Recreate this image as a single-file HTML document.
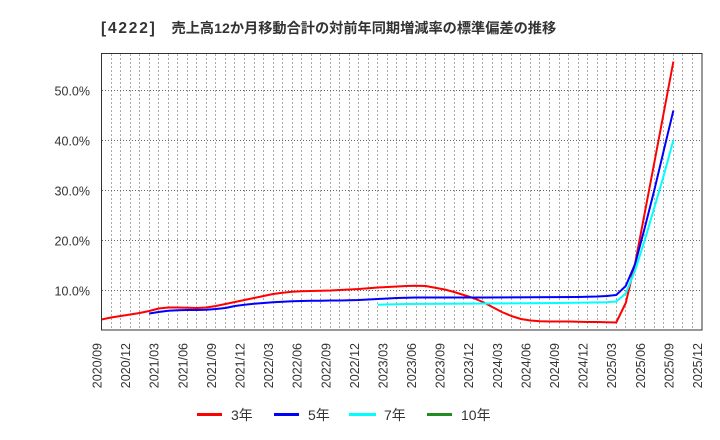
<!DOCTYPE html>
<html>
<head>
<meta charset="utf-8">
<style>
html,body{margin:0;padding:0;background:#fff;}
svg{display:block;}
text{font-family:"Liberation Sans","Noto Sans CJK JP",sans-serif;fill:#333;}
</style>
</head>
<body>
<svg width="720" height="440" viewBox="0 0 720 440" xmlns="http://www.w3.org/2000/svg">
<rect x="0" y="0" width="720" height="440" fill="#fff"/>
<text y="33" font-weight="bold"><tspan x="101" font-size="15.5" letter-spacing="1.8">[4222]</tspan><tspan x="171.5" font-size="14.2">売上高12か月移動合計の対前年同期増減率の標準偏差の推移</tspan></text>

<!-- vertical grid (monthly) -->
<path fill="none" stroke="#aaa" stroke-width="1" stroke-dasharray="2,2" d="M111.5 54V330M120.5 54V330M130.5 54V330M139.5 54V330M149.5 54V330M158.5 54V330M168.5 54V330M177.5 54V330M187.5 54V330M196.5 54V330M206.5 54V330M215.5 54V330M225.5 54V330M234.5 54V330M244.5 54V330M254.5 54V330M263.5 54V330M273.5 54V330M282.5 54V330M292.5 54V330M301.5 54V330M311.5 54V330M320.5 54V330M330.5 54V330M339.5 54V330M349.5 54V330M358.5 54V330M368.5 54V330M377.5 54V330M387.5 54V330M396.5 54V330M406.5 54V330M416.5 54V330M425.5 54V330M435.5 54V330M444.5 54V330M454.5 54V330M463.5 54V330M473.5 54V330M482.5 54V330M492.5 54V330M501.5 54V330M511.5 54V330M520.5 54V330M530.5 54V330M539.5 54V330M549.5 54V330M559.5 54V330M568.5 54V330M578.5 54V330M587.5 54V330M597.5 54V330M606.5 54V330M616.5 54V330M625.5 54V330M635.5 54V330M644.5 54V330M654.5 54V330M663.5 54V330M673.5 54V330M682.5 54V330M692.5 54V330"/>
<!-- horizontal grid -->
<path fill="none" stroke="#666" stroke-width="1" stroke-dasharray="1,2" d="M102 90.5H702M102 140.5H702M102 190.5H702M102 240.5H702M102 290.5H702"/>

<!-- series -->
<g transform="translate(101.5,340) scale(9.5317,-5)" fill="none" stroke-linejoin="round" stroke-linecap="butt">
<polyline vector-effect="non-scaling-stroke" stroke="#ff0000" stroke-width="2" points="0,4.1 1,4.5 2,4.8 3,5.1 4,5.4 5,5.8 6,6.3 7,6.5 8,6.5 9,6.45 10,6.4 11,6.5 12,6.8 13,7.2 14,7.6 15,8.0 16,8.4 17,8.8 18,9.2 19,9.45 20,9.65 21,9.75 22,9.8 23,9.85 24,9.9 25,10.0 26,10.1 27,10.2 28,10.35 29,10.5 30,10.6 31,10.7 32,10.8 33,10.85 34,10.8 35,10.45 36,10.1 37,9.6 38,9.0 39,8.4 40,7.6 41,6.6 42,5.6 43,4.8 44,4.2 45,3.9 46,3.75 47,3.7 48,3.7 49,3.7 50,3.65 51,3.6 52,3.6 53,3.55 54,3.5 55,7.4 56,15.5 57,25.5 58,35.5 59,45.6 60,55.7"/>
<polyline vector-effect="non-scaling-stroke" stroke="#0000ff" stroke-width="2" points="5,5.3 6,5.6 7,5.85 8,5.95 9,6.0 10,6.0 11,6.05 12,6.2 13,6.4 14,6.8 15,7.05 16,7.25 17,7.4 18,7.55 19,7.65 20,7.75 21,7.8 22,7.85 23,7.85 24,7.9 25,7.9 26,7.95 27,8.0 28,8.1 29,8.2 30,8.3 31,8.4 32,8.45 33,8.5 40,8.5 50,8.6 51,8.65 52,8.7 53,8.8 54,9.0 55,10.8 56,15.3 57,22.5 58,30.0 59,38.0 60,45.9"/>
<polyline vector-effect="non-scaling-stroke" stroke="#00ffff" stroke-width="2" points="29,7.05 32,7.2 40,7.3 48,7.4 53,7.55 54,7.7 55,9.3 56,14.0 57,20.0 58,26.5 59,33.0 60,40.0"/>
</g>

<!-- frame -->
<rect x="101.5" y="53.5" width="600.5" height="276.5" fill="none" stroke="#333" stroke-width="1"/>

<!-- y labels -->
<g font-size="12.5" text-anchor="end">
<text x="90" y="95.5">50.0%</text>
<text x="90" y="145.5">40.0%</text>
<text x="90" y="195.5">30.0%</text>
<text x="90" y="245.5">20.0%</text>
<text x="90" y="295.5">10.0%</text>
</g>

<!-- x labels -->
<g font-size="12.5" text-anchor="end">
<text transform="translate(101.5,343) rotate(-90)">2020/09</text>
<text transform="translate(130.1,343) rotate(-90)">2020/12</text>
<text transform="translate(158.7,343) rotate(-90)">2021/03</text>
<text transform="translate(187.3,343) rotate(-90)">2021/06</text>
<text transform="translate(215.9,343) rotate(-90)">2021/09</text>
<text transform="translate(244.5,343) rotate(-90)">2021/12</text>
<text transform="translate(273.1,343) rotate(-90)">2022/03</text>
<text transform="translate(301.7,343) rotate(-90)">2022/06</text>
<text transform="translate(330.3,343) rotate(-90)">2022/09</text>
<text transform="translate(358.9,343) rotate(-90)">2022/12</text>
<text transform="translate(387.5,343) rotate(-90)">2023/03</text>
<text transform="translate(416.0,343) rotate(-90)">2023/06</text>
<text transform="translate(444.6,343) rotate(-90)">2023/09</text>
<text transform="translate(473.2,343) rotate(-90)">2023/12</text>
<text transform="translate(501.8,343) rotate(-90)">2024/03</text>
<text transform="translate(530.4,343) rotate(-90)">2024/06</text>
<text transform="translate(559.0,343) rotate(-90)">2024/09</text>
<text transform="translate(587.6,343) rotate(-90)">2024/12</text>
<text transform="translate(616.2,343) rotate(-90)">2025/03</text>
<text transform="translate(644.8,343) rotate(-90)">2025/06</text>
<text transform="translate(673.4,343) rotate(-90)">2025/09</text>
<text transform="translate(702.0,343) rotate(-90)">2025/12</text>
</g>

<!-- legend -->
<g stroke-width="3">
<line x1="197" y1="414.5" x2="222" y2="414.5" stroke="#ff0000"/>
<line x1="274" y1="414.5" x2="299" y2="414.5" stroke="#0000ff"/>
<line x1="349" y1="414.5" x2="376" y2="414.5" stroke="#00ffff"/>
<line x1="427" y1="414.5" x2="452" y2="414.5" stroke="#228b22"/>
</g>
<g font-size="14">
<text x="231" y="420">3年</text>
<text x="308" y="420">5年</text>
<text x="384" y="420">7年</text>
<text x="461" y="420">10年</text>
</g>
</svg>
</body>
</html>
